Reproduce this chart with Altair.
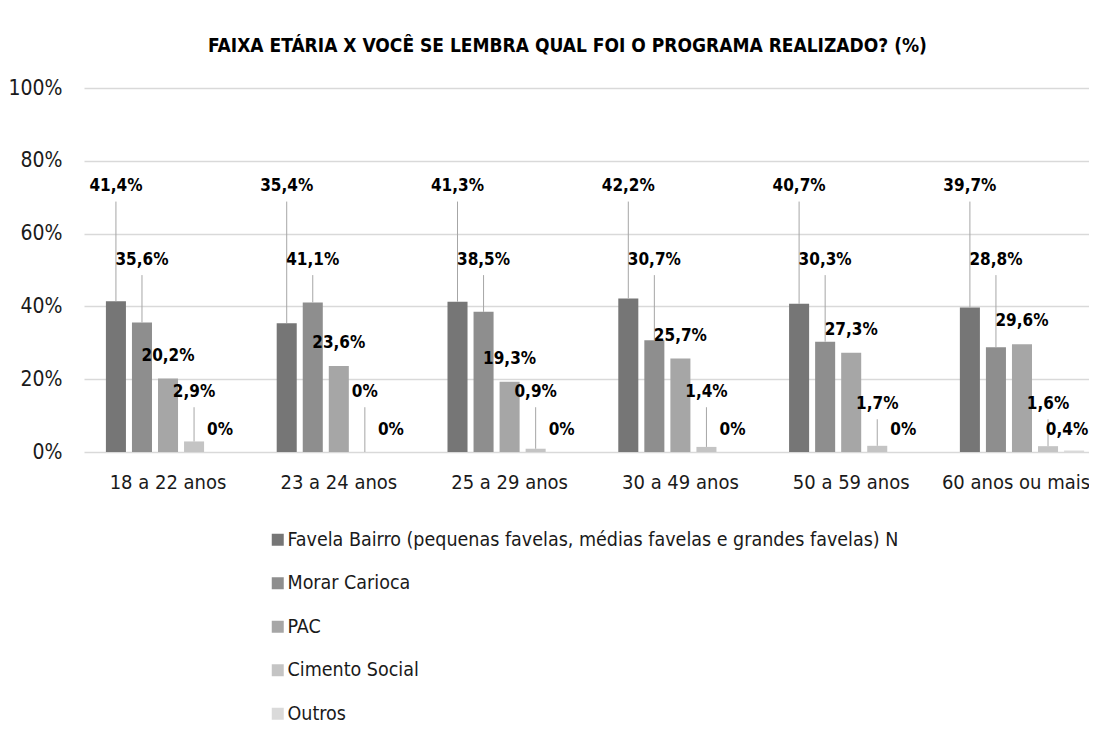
import altair as alt
import pandas as pd

groups = ["18 a 22 anos", "23 a 24 anos", "25 a 29 anos", "30 a 49 anos", "50 a 59 anos", "60 anos ou mais"]
series = [
    "Favela Bairro (pequenas favelas, médias favelas e grandes favelas) N",
    "Morar Carioca",
    "PAC",
    "Cimento Social",
    "Outros",
]
favela_bairro = [41.4, 35.4, 41.3, 42.2, 40.7, 39.7]
morar_carioca = [35.6, 41.1, 38.5, 30.7, 30.3, 28.8]
pac = [20.2, 23.6, 19.3, 25.7, 27.3, 29.6]
cimento_social = [2.9, 0.0, 0.9, 1.4, 1.7, 1.6]
outros = [0.0, 0.0, 0.0, 0.0, 0.0, 0.4]
values = [favela_bairro, morar_carioca, pac, cimento_social, outros]

colors = ["#767676", "#8e8e8e", "#a6a6a6", "#c4c4c4", "#dadada"]
FONT = "'DejaVu Sans Condensed', Roboto, sans-serif"

# label placement (style): fixed anchor per series, or offset above bar
label_anchor = {0: 73.0, 1: 52.8, 3: 16.5, 4: 6.0}
label_above = {2: 6.3}
label_override = {("50 a 59 anos", 3): 13.2, ("60 anos ou mais", 3): 13.2}
leader_series = {0, 1, 3}
leader_gap = 4.2


def fmt(v):
    if v == 0:
        return "0%"
    return f"{v:.1f}".replace(".", ",") + "%"


rows = []
for si, s in enumerate(series):
    for gi, g in enumerate(groups):
        v = values[si][gi]
        if si in label_above:
            ly = v + label_above[si]
        else:
            ly = label_override.get((g, si), label_anchor[si])
        rows.append({
            "grupo": g, "programa": s, "ordem": si, "valor": v,
            "rotulo": fmt(v), "ly": ly,
            "lt": ly - leader_gap if si in leader_series else None,
            "borda": (gi == len(groups) - 1 and si == len(series) - 1),
        })
df = pd.DataFrame(rows)

last_group = groups[-1]
x = alt.X("grupo:N", sort=groups, title=None,
          scale=alt.Scale(paddingInner=0.2727, paddingOuter=0.0785, align=0.817),
          axis=alt.Axis(labelAngle=0, ticks=False, tickSize=0, domain=False,
                        labelFontSize=20, labelFont=FONT, labelColor="#1a1a1a",
                        labelPadding=20,
                        labelOffset={"condition": {"test": f"datum.value === '{last_group}'",
                                                   "value": -6}, "value": 0}))
xo = alt.XOffset("programa:N", sort=series,
                 scale=alt.Scale(paddingInner=0.2308, paddingOuter=0))

bars = alt.Chart(df).mark_bar().encode(
    x=x, xOffset=xo,
    y=alt.Y("valor:Q", title=None,
            scale=alt.Scale(domain=[0, 100], nice=False),
            axis=alt.Axis(values=[0, 20, 40, 60, 80, 100], labelExpr="datum.value + '%'",
                          ticks=False, tickSize=0, domain=False, grid=True,
                          gridColor="#d9d9d9", gridWidth=1.5,
                          labelFontSize=21, labelFont=FONT, labelColor="#1a1a1a",
                          labelPadding=22)),
    color=alt.Color("programa:N", sort=series,
                    scale=alt.Scale(domain=series, range=colors),
                    legend=alt.Legend(title=None, orient="none", direction="vertical",
                                      legendX=184, legendY=442, padding=0,
                                      symbolType="square", symbolSize=144,
                                      symbolStrokeWidth=0, labelFont=FONT,
                                      labelFontSize=19.5, labelColor="#1a1a1a",
                                      labelOffset=0, rowPadding=22.5,
                                      labelLimit=0)),
)

leaders = alt.Chart(df).transform_filter("datum.lt != null").mark_rule(
    color="#a6a6a6", strokeWidth=1
).encode(x=x, xOffset=xo, y="valor:Q", y2="lt:Q")

label_style = dict(font=FONT, fontSize=17, fontWeight="bold", color="#000000", baseline="middle")
labels = alt.Chart(df).transform_filter("!datum.borda").mark_text(**label_style).encode(
    x=x, xOffset=xo, y="ly:Q", text="rotulo:N")
labels_edge = alt.Chart(df).transform_filter("datum.borda").mark_text(dx=-7, **label_style).encode(
    x=x, xOffset=xo, y="ly:Q", text="rotulo:N")

chart = alt.layer(bars, leaders, labels, labels_edge).properties(
    width=1005, height=364,
    autosize=alt.AutoSizeParams(type="none"),
    padding={"left": 76, "top": 80, "right": 0, "bottom": 273},
    title=alt.Title("FAIXA ETÁRIA X VOCÊ SE LEMBRA QUAL FOI O PROGRAMA REALIZADO? (%)",
                    font=FONT, fontSize=19, fontWeight="bold", color="#000000",
                    anchor="middle", baseline="alphabetic", offset=6, dx=-19),
).configure_view(stroke=None)

chart.save("out.html", embed_options={"renderer": "svg", "actions": False})
